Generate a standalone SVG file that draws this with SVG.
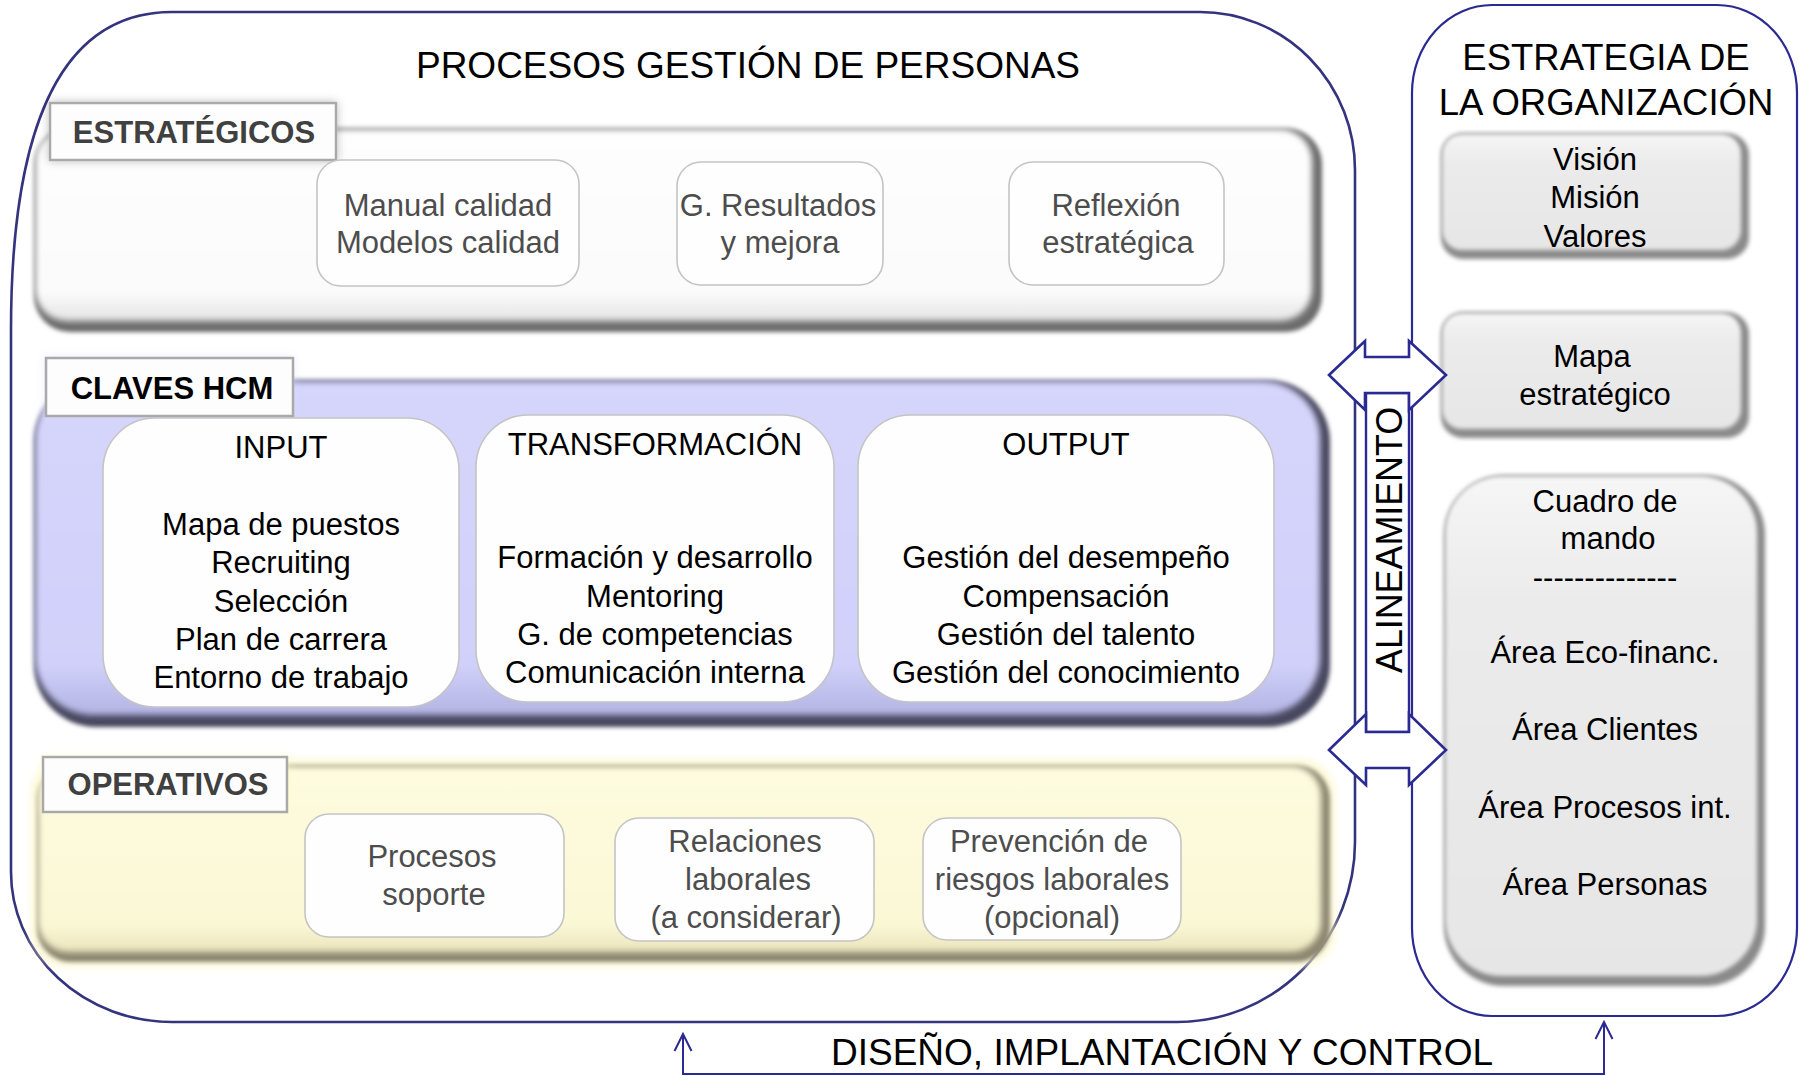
<svg xmlns="http://www.w3.org/2000/svg" width="1804" height="1076" viewBox="0 0 1804 1076">
<defs>
<style>
text{font-family:"Liberation Sans",Arial,sans-serif;}
.body{font-size:31px;text-anchor:middle;}
.grey{fill:#4d4d4d;}
.black{fill:#000;}
.lab{font-size:31px;font-weight:bold;text-anchor:middle;}
.title{font-size:37px;text-anchor:middle;fill:#000;}
.box{fill:#fefefe;stroke:#c4c4c4;stroke-width:1.6;}
.labbox{fill:#fdfdfd;stroke:#a9a9a9;stroke-width:2.5;}
.navy{fill:none;stroke:#2a2a92;stroke-width:2.2;}
.arrow{fill:#fff;stroke:#2a2a92;stroke-width:2.6;stroke-linejoin:miter;}
</style>
<filter id="blur3" x="-5%" y="-10%" width="110%" height="120%"><feGaussianBlur stdDeviation="3"/></filter>
<filter id="blur2" x="-5%" y="-10%" width="110%" height="120%"><feGaussianBlur stdDeviation="2"/></filter>
<filter id="glowGrey" x="-20%" y="-40%" width="140%" height="180%"><feGaussianBlur in="SourceAlpha" stdDeviation="5"/><feComponentTransfer><feFuncA type="linear" slope="0.25"/></feComponentTransfer><feMerge><feMergeNode/><feMergeNode in="SourceGraphic"/></feMerge></filter>
<filter id="glowLav" x="-20%" y="-40%" width="140%" height="180%"><feGaussianBlur in="SourceAlpha" stdDeviation="5"/><feComponentTransfer><feFuncR type="linear" slope="0" intercept="0.7"/><feFuncG type="linear" slope="0" intercept="0.7"/><feFuncB type="linear" slope="0" intercept="1"/><feFuncA type="linear" slope="0.5"/></feComponentTransfer><feMerge><feMergeNode/><feMergeNode in="SourceGraphic"/></feMerge></filter>
<filter id="glowYel" x="-20%" y="-40%" width="140%" height="180%"><feGaussianBlur in="SourceAlpha" stdDeviation="5"/><feComponentTransfer><feFuncR type="linear" slope="0" intercept="1"/><feFuncG type="linear" slope="0" intercept="0.97"/><feFuncB type="linear" slope="0" intercept="0.6"/><feFuncA type="linear" slope="0.6"/></feComponentTransfer><feMerge><feMergeNode/><feMergeNode in="SourceGraphic"/></feMerge></filter>
<linearGradient id="gGreyBox" x1="0" y1="0" x2="0" y2="1"><stop offset="0" stop-color="#f6f6f6"/><stop offset="0.25" stop-color="#ebebeb"/><stop offset="1" stop-color="#e6e6e6"/></linearGradient>
<linearGradient id="gLav" x1="0" y1="0" x2="0" y2="1"><stop offset="0" stop-color="#d6d6fc"/><stop offset="0.85" stop-color="#d0d0fa"/><stop offset="1" stop-color="#b4b4e4"/></linearGradient>
<linearGradient id="gYel" x1="0" y1="0" x2="0" y2="1"><stop offset="0" stop-color="#fefbdf"/><stop offset="0.85" stop-color="#fbf8d6"/><stop offset="1" stop-color="#eae4bc"/></linearGradient>
<linearGradient id="gWhite" x1="0" y1="0" x2="0" y2="1"><stop offset="0" stop-color="#fefefe"/><stop offset="0.85" stop-color="#fbfbfb"/><stop offset="1" stop-color="#e4e4e4"/></linearGradient>
<marker id="openArrow" markerUnits="userSpaceOnUse" markerWidth="22" markerHeight="22" viewBox="-20 -11 22 22" refX="0" refY="0" orient="auto-start-reverse">
<path d="M -17 -8.5 L 0 0 L -17 8.5" fill="none" stroke="#2a2a92" stroke-width="2"/>
</marker>
</defs>

<rect width="1804" height="1076" fill="#fff"/>

<g id="procesos-gestion">
<path d="M 172 12 L 1200 12 A 155 158 0 0 1 1355 170 L 1355 842 A 178 180 0 0 1 1177 1022 L 172 1022 A 161 150 0 0 1 11 872 L 11 330 C 11 150 50 12 172 12 Z" fill="none" stroke="#34347e" stroke-width="2.6"/>
<text class="title" x="748" y="78">PROCESOS GESTIÓN DE PERSONAS</text>
</g>

<g id="panel-estrategicos">
<rect x="34" y="128" width="1288" height="204" rx="36" fill="#6c6c6c" filter="url(#blur2)"/>
<rect x="35" y="129" width="1277" height="192" rx="32" fill="url(#gWhite)" filter="url(#blur3)"/>
<rect x="50" y="103" width="286" height="57" class="labbox" filter="url(#glowGrey)"/>
<text class="lab" x="194" y="143" fill="#404040">ESTRATÉGICOS</text>
</g>
<g id="manual-calidad">
<rect x="317" y="160" width="262" height="126" rx="24" class="box"/>
<text class="body grey" x="448" y="216">Manual calidad</text>
<text class="body grey" x="448" y="253">Modelos calidad</text>
</g>
<g id="g-resultados">
<rect x="677" y="162" width="206" height="123" rx="24" class="box"/>
<text class="body grey" x="778" y="216">G. Resultados</text>
<text class="body grey" x="780" y="253">y mejora</text>
</g>
<g id="reflexion">
<rect x="1009" y="162" width="215" height="123" rx="24" class="box"/>
<text class="body grey" x="1116" y="216">Reflexión</text>
<text class="body grey" x="1118" y="253">estratégica</text>
</g>

<g id="panel-claves">
<rect x="34" y="380" width="1296" height="347" rx="62" fill="#46465e" filter="url(#blur2)"/>
<rect x="35" y="381" width="1285" height="334" rx="58" fill="url(#gLav)" filter="url(#blur3)"/>
<rect x="46" y="358" width="247" height="58" class="labbox" filter="url(#glowLav)"/>
<text class="lab" x="172" y="399" fill="#000">CLAVES HCM</text>
</g>
<g id="input">
<rect x="103" y="418" width="356" height="289" rx="52" class="box"/>
<text class="body black" x="281" y="458">INPUT</text>
<text class="body black" x="281" y="535">Mapa de puestos</text>
<text class="body black" x="281" y="573">Recruiting</text>
<text class="body black" x="281" y="612">Selección</text>
<text class="body black" x="281" y="650">Plan de carrera</text>
<text class="body black" x="281" y="688">Entorno de trabajo</text>
</g>
<g id="transformacion">
<rect x="476" y="415" width="358" height="287" rx="52" class="box"/>
<text class="body black" x="655" y="455">TRANSFORMACIÓN</text>
<text class="body black" x="655" y="568">Formación y desarrollo</text>
<text class="body black" x="655" y="607">Mentoring</text>
<text class="body black" x="655" y="645">G. de competencias</text>
<text class="body black" x="655" y="683">Comunicación interna</text>
</g>
<g id="output">
<rect x="858" y="415" width="416" height="287" rx="52" class="box"/>
<text class="body black" x="1066" y="455">OUTPUT</text>
<text class="body black" x="1066" y="568">Gestión del desempeño</text>
<text class="body black" x="1066" y="607">Compensación</text>
<text class="body black" x="1066" y="645">Gestión del talento</text>
<text class="body black" x="1066" y="683">Gestión del conocimiento</text>
</g>

<g id="panel-operativos">
<rect x="30" y="758" width="1306" height="210" rx="36" fill="#fdf8c8" opacity="0.6" filter="url(#blur3)"/>
<rect x="37" y="765" width="1293" height="197" rx="34" fill="#8c8670" filter="url(#blur2)"/>
<rect x="38" y="766" width="1283" height="186" rx="30" fill="url(#gYel)" filter="url(#blur3)"/>
<rect x="43" y="757" width="244" height="55" class="labbox" filter="url(#glowYel)"/>
<text class="lab" x="168" y="795" fill="#404040">OPERATIVOS</text>
</g>
<g id="procesos-soporte">
<rect x="305" y="814" width="259" height="123" rx="24" class="box"/>
<text class="body grey" x="432" y="867">Procesos</text>
<text class="body grey" x="434" y="905">soporte</text>
</g>
<g id="relaciones-laborales">
<rect x="615" y="818" width="259" height="123" rx="24" class="box"/>
<text class="body grey" x="745" y="852">Relaciones</text>
<text class="body grey" x="748" y="890">laborales</text>
<text class="body grey" x="746" y="928">(a considerar)</text>
</g>
<g id="prevencion">
<rect x="923" y="818" width="258" height="122" rx="24" class="box"/>
<text class="body grey" x="1049" y="852">Prevención de</text>
<text class="body grey" x="1052" y="890">riesgos laborales</text>
<text class="body grey" x="1052" y="928">(opcional)</text>
</g>

<g id="estrategia-organizacion">
<rect x="1412" y="5" width="385" height="1011" rx="80" ry="88" class="navy"/>
<text class="title" x="1606" y="70" style="font-size:36.5px">ESTRATEGIA DE</text>
<text class="title" x="1606" y="115" style="font-size:36.5px">LA ORGANIZACIÓN</text>
</g>
<g id="vision">
<rect x="1441" y="133" width="308" height="126" rx="22" fill="#8a8a8a" filter="url(#blur2)"/>
<rect x="1442" y="134" width="299" height="116" rx="20" fill="url(#gGreyBox)" filter="url(#blur2)"/>
<text class="body black" x="1595" y="170">Visión</text>
<text class="body black" x="1595" y="208">Misión</text>
<text class="body black" x="1595" y="247">Valores</text>
</g>
<g id="mapa">
<rect x="1441" y="312" width="308" height="126" rx="22" fill="#8a8a8a" filter="url(#blur2)"/>
<rect x="1442" y="313" width="299" height="116" rx="20" fill="url(#gGreyBox)" filter="url(#blur2)"/>
<text class="body black" x="1592" y="367">Mapa</text>
<text class="body black" x="1595" y="405">estratégico</text>
</g>
<g id="cuadro">
<rect x="1444" y="475" width="321" height="511" rx="60" fill="#8a8a8a" filter="url(#blur2)"/>
<rect x="1445" y="476" width="312" height="500" rx="57" fill="url(#gGreyBox)" filter="url(#blur2)"/>
<text class="body black" x="1605" y="512">Cuadro de</text>
<text class="body black" x="1608" y="549">mando</text>
<text class="body black" x="1605" y="588">--------------</text>
<text class="body black" x="1605" y="663">Área Eco-financ.</text>
<text class="body black" x="1605" y="740">Área Clientes</text>
<text class="body black" x="1605" y="818">Área Procesos int.</text>
<text class="body black" x="1605" y="895">Área Personas</text>
</g>

<g id="alineamiento">
<rect x="1366" y="393" width="43" height="339" fill="#fff" stroke="#2a2a92" stroke-width="2.4"/>
<text transform="translate(1402,540) rotate(-90)" x="0" y="0" style="font-size:36px;text-anchor:middle;fill:#000" textLength="266" lengthAdjust="spacingAndGlyphs">ALINEAMIENTO</text>
</g>

<g id="connectors">
<polygon class="arrow" points="1329,375 1365,341 1365,357 1409,357 1409,341 1446,375 1409,410 1409,393 1365,393 1365,410"/>
<polygon class="arrow" points="1329,750 1366,714 1366,732 1409,732 1409,714 1446,750 1409,785 1409,768 1366,768 1366,785"/>
<path d="M 683 1034 L 683 1074 L 1604 1074 L 1604 1022" fill="none" stroke="#2a2a92" stroke-width="2" marker-start="url(#openArrow)" marker-end="url(#openArrow)"/>
<text class="title" x="1162" y="1065">DISEÑO, IMPLANTACIÓN Y CONTROL</text>
</g>
</svg>
